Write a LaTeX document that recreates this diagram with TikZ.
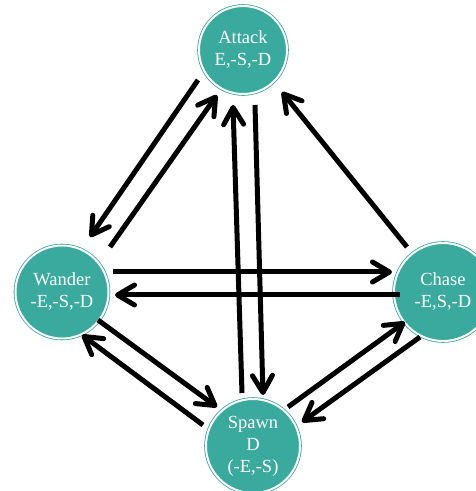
\documentclass[tikz,border=0pt]{standalone}
\usepackage{fontspec}
\setmainfont{Liberation Serif}
\usetikzlibrary{arrows.meta}
\definecolor{tealc}{RGB}{58,169,158}
\begin{document}
\begin{tikzpicture}[x=1pt,y=1pt,
  state/.style={circle, fill=tealc, draw=tealc, double=white, double distance=2pt,
    line width=0.8pt, text=white, align=center,
    font=\fontsize{18.5}{22}\selectfont, inner sep=0pt, outer sep=0pt},
  arr/.style={line width=5pt, -{Straight Barb[length=17pt,width=20pt,round]}}]
\useasboundingbox (0,0) rectangle (475,491);
\node[state, minimum size=88pt] (attack) at (243,441) {Attack\\E,-S,-D};
\node[state, minimum size=93pt] (wander) at (62,199) {Wander\\-E,-S,-D};
\node[state, minimum size=98pt] (chase) at (443,199) {Chase\\-E,S,-D};
\node[state, minimum size=94pt] (spawn) at (253,45) {Spawn\\D\\(-E,-S)};
% Attack <-> Wander
\draw[arr] ([shift={(-45,-30)}]attack.center) -- ([shift={(28,55)}]wander.center);
\draw[arr] ([shift={(48,45)}]wander.center) -- ([shift={(-26,-45)}]attack.center);
% Attack <-> Spawn
\draw[arr] ([shift={(-11,53)}]spawn.center) -- ([shift={(-10,-55)}]attack.center);
\draw[arr] ([shift={(12,-55)}]attack.center) -- ([shift={(10,51)}]spawn.center);
% Chase -> Attack
\draw[arr] ([shift={(-36,45)}]chase.center) -- ([shift={(39,-42)}]attack.center);
% Wander <-> Chase
\draw[arr] ([shift={(51,20)}]wander.center) -- ([shift={(-51,20)}]chase.center);
\draw[arr] ([shift={(-43,-3)}]chase.center) -- ([shift={(53,-3)}]wander.center);
% Wander <-> Spawn
\draw[arr] ([shift={(36,-28)}]wander.center) -- ([shift={(-36,39)}]spawn.center);
\draw[arr] ([shift={(-50,21)}]spawn.center) -- ([shift={(20,-43)}]wander.center);
% Spawn <-> Chase
\draw[arr] ([shift={(35,39)}]spawn.center) -- ([shift={(-38,-30)}]chase.center);
\draw[arr] ([shift={(-23,-45)}]chase.center) -- ([shift={(49,24)}]spawn.center);
\end{tikzpicture}
\end{document}
